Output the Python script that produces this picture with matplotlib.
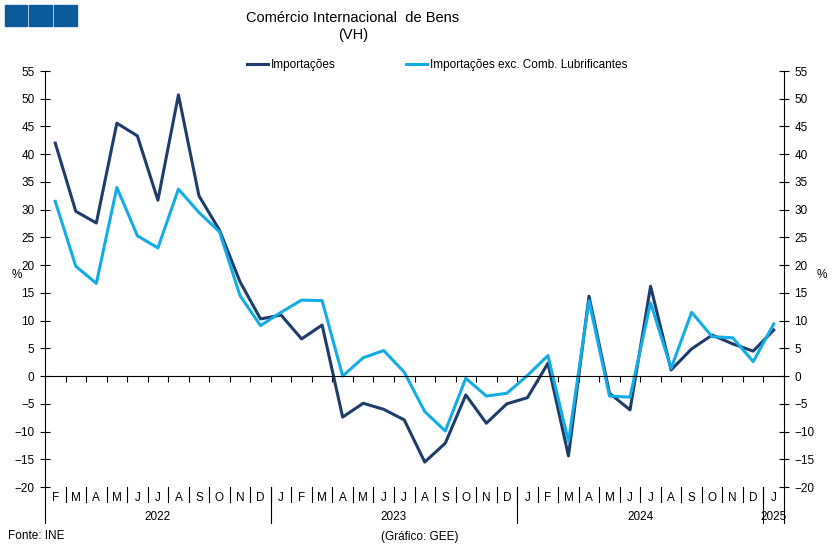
import numpy as np
import matplotlib.pyplot as plt
from matplotlib.patches import Rectangle
import matplotlib.transforms as mtransforms

plt.rcParams['font.family'] = ['Liberation Sans', 'DejaVu Sans']

months = ['F', 'M', 'A', 'M', 'J', 'J', 'A', 'S', 'O', 'N', 'D',
          'J', 'F', 'M', 'A', 'M', 'J', 'J', 'A', 'S', 'O', 'N', 'D',
          'J', 'F', 'M', 'A', 'M', 'J', 'J', 'A', 'S', 'O', 'N', 'D',
          'J']
years = ['2022', '2023', '2024', '2025']
year_counts = [11, 12, 12, 1]

importacoes = [42.0, 29.7, 27.6, 45.6, 43.3, 31.7, 50.7, 32.5, 26.3, 17.0, 10.3,
               11.0, 6.7, 9.2, -7.4, -4.9, -6.0, -7.9, -15.5, -12.1, -3.4, -8.5, -5.0,
               -3.9, 2.3, -14.4, 14.4, -3.1, -6.1, 16.2, 1.1, 4.9, 7.4, 5.8, 4.5,
               8.3]
imp_exc_comb = [31.5, 19.8, 16.7, 34.0, 25.3, 23.1, 33.7, 29.5, 26.0, 14.5, 9.1,
                11.5, 13.7, 13.6, 0.0, 3.3, 4.6, 0.7, -6.4, -9.9, -0.4, -3.6, -3.1,
                0.1, 3.7, -11.8, 13.6, -3.6, -3.8, 13.2, 1.4, 11.5, 7.1, 6.9, 2.6,
                9.4]

DARK = '#1F3D6B'
LIGHT = '#12ACE6'
FS = 8.5

fig = plt.figure(figsize=(8.39, 5.51), dpi=100)
W, H = 839, 551
ax = fig.add_axes([45 / W, 1 - 487 / H, (784 - 45) / W, (487 - 71) / H])

x = np.arange(len(months))
ax.plot(x, importacoes, color=DARK, lw=2.2, label='Importações')
ax.plot(x, imp_exc_comb, color=LIGHT, lw=2.2, label='Importações exc. Comb. Lubrificantes')

ax.set_xlim(-0.5, len(months) - 0.5)
ax.set_ylim(-20, 55)
ax.set_yticks(np.arange(-20, 56, 5))
ax.tick_params(axis='y', direction='inout', length=7, width=0.8, labelsize=FS,
               left=True, right=True, labelleft=True, labelright=True, pad=4)

ax.spines['top'].set_visible(False)
ax.spines['bottom'].set_position(('data', 0))
ax.spines['bottom'].set_linewidth(0.8)
for s in ['left', 'right']:
    ax.spines[s].set_linewidth(0.8)
ax.set_xticks(np.arange(-0.5, len(months), 1))
ax.set_xticklabels([])
ax.tick_params(axis='x', direction='out', length=4, width=0.8)

trans = mtransforms.blended_transform_factory(ax.transData, ax.transAxes)
for i, m in enumerate(months):
    ax.text(i, -0.026, m, transform=trans, ha='center', va='center', fontsize=FS)
    if 0 < i:
        ax.plot([i - 0.5, i - 0.5], [0, -0.035], transform=trans, color='black',
                lw=0.8, clip_on=False)

start = 0
for yr, n in zip(years, year_counts):
    ax.text(start + (n - 1) / 2, -0.072, yr, transform=trans, ha='center',
            va='center', fontsize=FS)
    start += n
    ax.plot([start - 0.5, start - 0.5], [0, -0.087], transform=trans,
            color='black', lw=0.8, clip_on=False)
ax.plot([-0.5, -0.5], [0, -0.087], transform=trans, color='black', lw=0.8, clip_on=False)

fig.text(17 / W, 1 - 275 / H, '%', fontsize=FS, ha='center', va='center')
fig.text(822 / W, 1 - 275 / H, '%', fontsize=FS, ha='center', va='center')

fig.text(353 / W, 1 - 18 / H, 'Comércio Internacional  de Bens', fontsize=10.5,
         ha='center', va='center')
fig.text(353 / W, 1 - 35 / H, '(VH)', fontsize=10.5, ha='center', va='center')

ax.legend(loc='center', bbox_to_anchor=(437 / W, 1 - 65 / H), bbox_transform=fig.transFigure,
          ncol=2, frameon=False, fontsize=FS, handlelength=1.8, handletextpad=0.2,
          columnspacing=6.0)

fig.text(8 / W, 1 - 536 / H, 'Fonte: INE', fontsize=FS, ha='left', va='center')
fig.text(420 / W, 1 - 537 / H, '(Gráfico: GEE)', fontsize=FS, ha='center', va='center')

for x0, x1 in [(5, 27), (29, 52), (54, 77)]:
    fig.patches.append(Rectangle((x0 / W, 1 - 26 / H), (x1 - x0) / W, 21 / H,
                                 transform=fig.transFigure, color='#0B5A9C'))

fig.savefig('out.png', dpi=100)
